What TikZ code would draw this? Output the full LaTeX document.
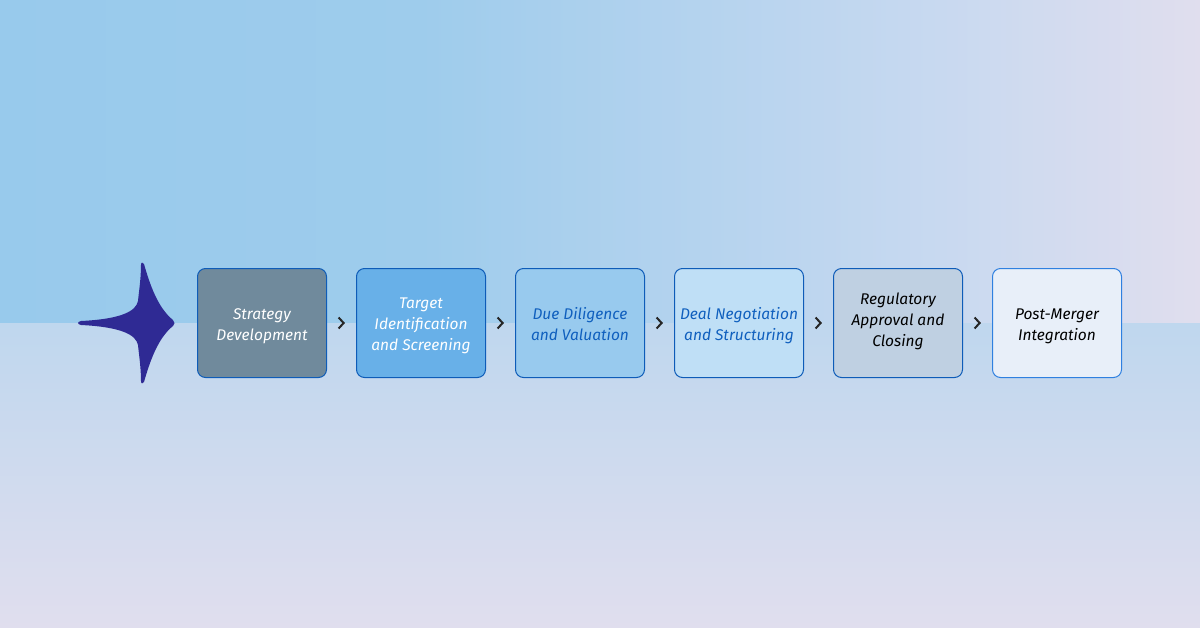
\documentclass[tikz,border=0pt]{standalone}
\usepackage{fontspec}
\setmainfont{Fira Sans}
\usetikzlibrary{arrows.meta}
\usetikzlibrary{decorations.markings}
\usetikzlibrary{positioning}
\definecolor{mstar}{RGB}{47, 42, 148}
\definecolor{mline}{RGB}{14, 92, 184}
\definecolor{mtext}{RGB}{15, 95, 190}
\definecolor{skyleft}{RGB}{152, 202, 236}
\definecolor{skymid}{RGB}{158, 204, 236}
\definecolor{skyhigh}{RGB}{200, 217, 240}
\definecolor{skyright}{RGB}{224, 222, 238}
\definecolor{lowtop}{RGB}{191, 215, 238}
\definecolor{lowmid}{RGB}{206, 219, 241}
\definecolor{lowend}{RGB}{224, 222, 238}
\pgfdeclarehorizontalshading{skyband}{100bp}{
  color(0bp)=(skyleft);
  color(25bp)=(skyleft);
  color(42.5bp)=(skymid);
  color(64.2bp)=(skyhigh);
  color(75bp)=(skyright);
  color(100bp)=(skyright)}
\tikzset{stepbox/.style = {draw=mline, line width=1pt, rounded corners=8pt, minimum width=129pt, minimum height=109pt,
                           inner sep=0}}
\tikzset{steptext/.style = {align=center, inner sep=0, font=\fontsize{15.5}{21}\selectfont\itshape}}
\tikzset{chev/.style = {decoration={markings,
                                    mark=at position 0.62 with {\arrow{Straight Barb[length=5pt, width=11pt, line width=2pt, black!85]}}},
                        postaction={decorate}}}
\begin{document}
\begin{tikzpicture}[x=1pt, y=-1pt]
    \useasboundingbox (0, 0) rectangle (1200, 627);
    \shade [shading=skyband] (0, 0) rectangle (1200, 323);
    \shade [top color=lowtop, middle color=lowmid, bottom color=lowend] (0, 323) rectangle (1200, 627);

    \fill [mstar] (144, 264) .. controls (150, 285) and (158, 308) .. (173, 320)
      .. controls (175, 322) and (175, 324) .. (173, 326)
      .. controls (158, 338) and (150, 361) .. (144, 382)
      .. controls (143, 384) and (141, 384) .. (141, 381)
      .. controls (141, 368) and (139, 355) .. (138, 345)
      .. controls (136, 335) and (122, 327) .. (81, 325)
      .. controls (77, 324) and (77, 322) .. (81, 321)
      .. controls (122, 319) and (136, 311) .. (138, 301)
      .. controls (139, 291) and (141, 278) .. (141, 265)
      .. controls (141, 262) and (143, 262) .. (144, 264) -- cycle;

    \node [stepbox, fill={rgb,255:red,112;green,138;blue,156}] (strategy) at (262, 323) {};
    \node [stepbox, fill={rgb,255:red,104;green,176;blue,232}, right=29pt of strategy] (target) {};
    \node [stepbox, fill={rgb,255:red,152;green,202;blue,238}, right=29pt of target] (diligence) {};
    \node [stepbox, fill={rgb,255:red,191;green,223;blue,246}, right=29pt of diligence] (deal) {};
    \node [stepbox, fill={rgb,255:red,191;green,208;blue,226}, right=29pt of deal] (approval) {};
    \node [stepbox, draw={rgb,255:red,47;green,128;blue,224}, fill={rgb,255:red,232;green,239;blue,249}, right=29pt of approval] (merger) {};

    \node [steptext, text=white, yshift=-3pt] (strategytext) at (strategy) {Strategy\\Development};
    \node [steptext, text=white, yshift=-3pt] (targettext) at (target) {Target\\Identification\\and Screening};
    \node [steptext, text=mtext, yshift=-1pt] (diligencetext) at (diligence) {Due Diligence\\and Valuation};
    \node [steptext, text=mtext, yshift=-3pt] (dealtext) at (deal) {Deal Negotiation\\and Structuring};
    \node [steptext, text=black, yshift=2pt] (approvaltext) at (approval) {Regulatory\\Approval and\\Closing};
    \node [steptext, text=black, yshift=-3pt] (mergertext) at (merger) {Post-Merger\\Integration};

    \foreach \a/\b in {strategy/target, target/diligence, diligence/deal, deal/approval, approval/merger} {
      \path [chev] (\a) -- (\b);
    }
  \end{tikzpicture}
\end{document}
